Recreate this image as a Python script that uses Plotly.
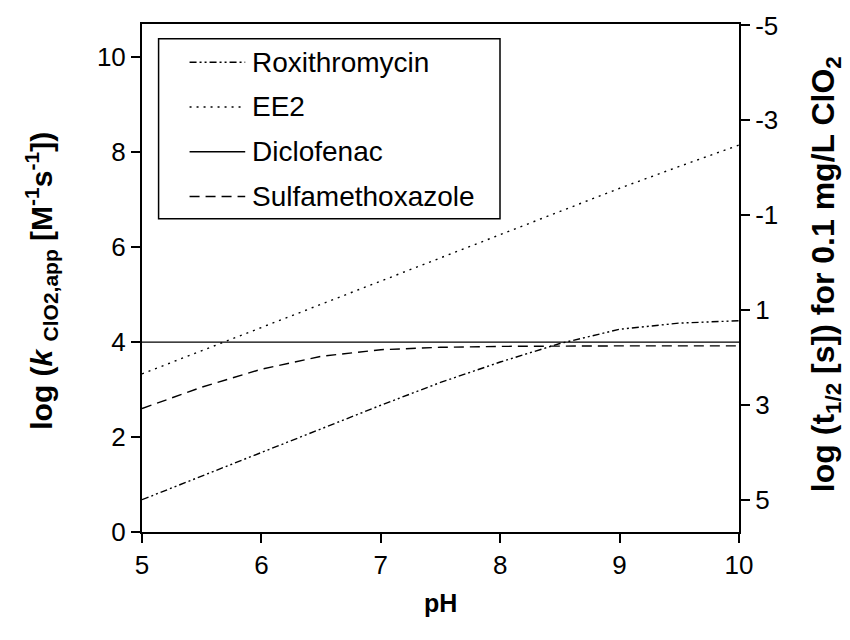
import plotly.graph_objects as go

# pH grid and apparent second-order rate constants, log k (M^-1 s^-1)
ph = [5.0, 5.5, 6.0, 6.5, 7.0, 7.5, 8.0, 8.5, 9.0, 9.5, 10.0]
log_k_roxithromycin = [0.68, 1.18, 1.68, 2.18, 2.67, 3.15, 3.58, 3.97, 4.27, 4.40, 4.45]
log_k_ee2 = [3.33, 3.82, 4.31, 4.80, 5.29, 5.78, 6.27, 6.76, 7.24, 7.70, 8.15]
log_k_diclofenac = [4.0, 4.0, 4.0, 4.0, 4.0, 4.0, 4.0, 4.0, 4.0, 4.0, 4.0]
log_k_sulfamethoxazole = [2.60, 3.05, 3.43, 3.70, 3.84, 3.89, 3.91, 3.92, 3.92, 3.92, 3.92]

series_names = ["Roxithromycin", "EE2", "Diclofenac", "Sulfamethoxazole"]
series_values = [log_k_roxithromycin, log_k_ee2, log_k_diclofenac, log_k_sulfamethoxazole]
series_dash = ["7px,3px,2px,3px,2px,3px", "2px,5px", "solid", "10px,6px"]

left_ticks = [0, 2, 4, 6, 8, 10]
right_ticks = [-5, -3, -1, 1, 3, 5]
right_tick_text = ["-5", "-3", "-1", "1", "3", "5"]
x_ticks = [5, 6, 7, 8, 9, 10]

# log t1/2 = LOG_T_OFFSET - log k for 0.1 mg/L ClO2
LOG_T_OFFSET = 5.67
Y_TOP = 10.7

FONT = "Liberation Sans, Arial, sans-serif"
TICK_SIZE = 26
LEGEND_SIZE = 28
W, H = 850, 640
ML, MR, MT, MB = 141.7, 110.8, 23.5, 108.3

fig = go.Figure()
for name, vals, dash in zip(series_names, series_values, series_dash):
    fig.add_trace(go.Scatter(
        x=ph, y=vals, mode="lines", name=name,
        line=dict(color="black", width=1.4, dash=dash),
        showlegend=False,
    ))
# attach the half-life axis so it is drawn on the right
fig.add_trace(go.Scatter(x=[], y=[], yaxis="y2", showlegend=False, hoverinfo="skip"))

axis_common = dict(
    showline=True, linecolor="black", linewidth=2,
    ticks="outside", ticklen=9, tickwidth=1.5, tickcolor="black",
    showgrid=False, zeroline=False,
    tickfont=dict(family=FONT, size=TICK_SIZE, color="black"),
)

fig.update_layout(
    width=W, height=H, autosize=False,
    margin=dict(l=ML, r=MR, t=MT, b=MB, pad=0),
    paper_bgcolor="white", plot_bgcolor="white",
    xaxis=dict(range=[5, 10], tickvals=x_ticks, mirror=True, **axis_common),
    yaxis=dict(range=[0, Y_TOP], tickvals=left_ticks, **axis_common),
    yaxis2=dict(range=[LOG_T_OFFSET, LOG_T_OFFSET - Y_TOP], tickvals=right_ticks,
                ticktext=right_tick_text,
                overlaying="y", side="right", anchor="x", **axis_common),
)

# legend drawn as a framed box with line samples
pw = W - ML - MR
ph_px = H - MT - MB


def px_to_paper(px, py):
    return (px - ML) / pw, (H - MB - py) / ph_px


bx0, by1 = px_to_paper(158.3, 38.3)
bx1, by0 = px_to_paper(500.0, 218.3)
fig.add_shape(type="rect", xref="paper", yref="paper", x0=bx0, y0=by0, x1=bx1, y1=by1,
              line=dict(color="black", width=1.5), fillcolor="white", layer="above")
row_y = [61.7, 106.5, 151.3, 196.0]
for name, dash, ry in zip(series_names, series_dash, row_y):
    sx0, sy = px_to_paper(189.3, ry)
    sx1, _ = px_to_paper(245.0, ry)
    fig.add_shape(type="line", xref="paper", yref="paper", x0=sx0, x1=sx1, y0=sy, y1=sy,
                  line=dict(color="black", width=1.4, dash=dash), layer="above")
    tx, _ = px_to_paper(250.0, ry)
    fig.add_annotation(xref="paper", yref="paper", x=tx, y=sy, text=name, showarrow=False,
                       xanchor="left", yanchor="middle",
                       font=dict(family=FONT, size=LEGEND_SIZE, color="black"))

# axis titles
ax, ay = px_to_paper(440.5, 603)
fig.add_annotation(xref="paper", yref="paper", x=ax, y=ay, text="<b>pH</b>", showarrow=False,
                   xanchor="center", yanchor="middle",
                   font=dict(family=FONT, size=25, color="black"))
lx, ly = px_to_paper(41, 280)
fig.add_annotation(xref="paper", yref="paper", x=lx, y=ly, textangle=-90, showarrow=False,
                   text="<b>log (<i>k</i> <sub>ClO2,app</sub> [M<sup>-1</sup>s<sup>-1</sup>])</b>",
                   xanchor="center", yanchor="middle",
                   font=dict(family=FONT, size=30, color="black"))
rx, ry_ = px_to_paper(826, 274)
fig.add_annotation(xref="paper", yref="paper", x=rx, y=ry_, textangle=-90, showarrow=False,
                   text="<b>log (t<sub>1/2</sub> [s]) for 0.1 mg/L ClO<sub>2</sub></b>",
                   xanchor="center", yanchor="middle",
                   font=dict(family=FONT, size=32, color="black"))

fig.write_html("out.html")
